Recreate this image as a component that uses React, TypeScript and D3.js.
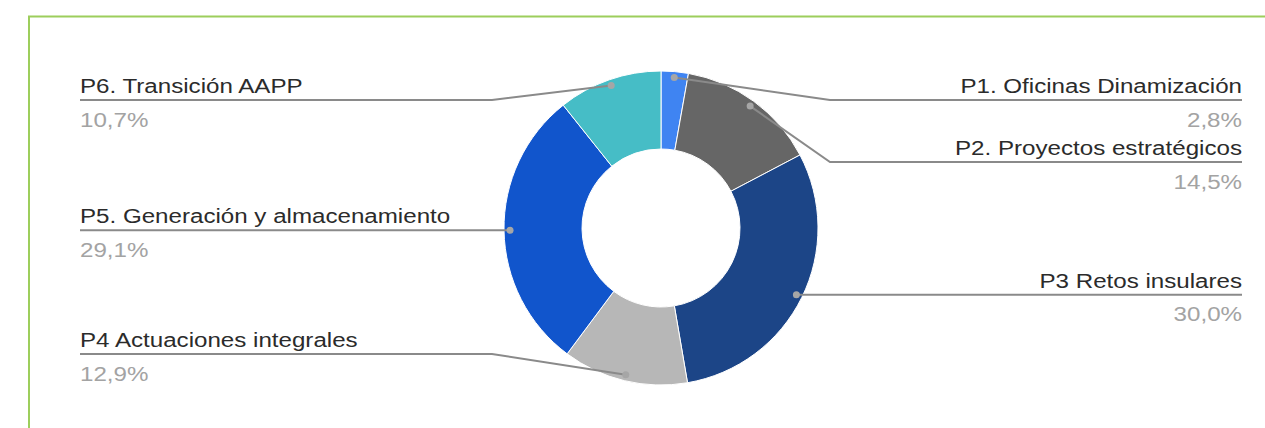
import React from "react";
import * as d3 from "d3";

const categories = [
  "P1. Oficinas Dinamización",
  "P2. Proyectos estratégicos",
  "P3 Retos insulares",
  "P4 Actuaciones integrales",
  "P5. Generación y almacenamiento",
  "P6. Transición AAPP",
];
const values = [2.8, 14.5, 30.0, 12.9, 29.1, 10.7];
const colors = ["#3f84f2", "#666666", "#1c4587", "#b7b7b7", "#1155cc", "#46bdc6"];

const W = 1265;
const H = 428;
const cx = 661;
const cy = 228;
const R = 157;
const r0 = 79;
const dotR = 151;
const FONT = "'Liberation Sans', Arial, sans-serif";
const FS = 21;
const SX = 1.15;
const minY = 100;
const maxY = 354;
const gap = 62;
const leftX = 80;
const rightX = 1242;

export default function App() {
  const total = d3.sum(values);
  const pie = d3.pie<number>().sort(null).value((d) => d)(values);
  const arc = d3.arc<d3.PieArcDatum<number>>().innerRadius(r0).outerRadius(R);
  const fmt = (v: number) => d3.format(".1f")((v / total) * 100).replace(".", ",") + "%";

  const items = pie.map((p, i) => {
    const a = (p.startAngle + p.endAngle) / 2;
    const dx = cx + dotR * Math.sin(a);
    const dy = cy - dotR * Math.cos(a);
    return { i, a, dx, dy, right: a < Math.PI, ly: dy };
  });

  // layout right side (top to bottom)
  const rightItems = items.filter((d) => d.right).sort((a, b) => a.dy - b.dy);
  let prev = -Infinity;
  rightItems.forEach((d) => {
    d.ly = Math.min(maxY, Math.max(d.dy, minY, prev + gap));
    prev = d.ly;
  });
  const leftItems = items.filter((d) => !d.right).sort((a, b) => a.dy - b.dy);
  prev = -Infinity;
  leftItems.forEach((d) => {
    d.ly = Math.min(maxY, Math.max(d.dy, minY, prev + gap));
    prev = d.ly;
  });

  const line = d3.line<[number, number]>();

  return (
    <svg
      width={W}
      height={H}
      style={{ position: "absolute", left: 0, top: 0, background: "#fff" }}
    >
      <rect x={29} y={16.5} width={W + 20} height={H + 20} fill="none" stroke="#8cc63f" strokeWidth={2} opacity={0.85} />
      <g transform={`translate(${cx},${cy})`}>
        {pie.map((p, i) => (
          <path key={i} d={arc(p) || ""} fill={colors[i]} stroke="#fff" strokeWidth={1} />
        ))}
      </g>
      {items.map((d) => {
        const bendX = d.right ? cx + R + 12 : cx - R - 12;
        const endX = d.right ? rightX : leftX;
        const pts: [number, number][] =
          Math.abs(d.ly - d.dy) < 4
            ? [[d.dx, d.dy], [endX, d.ly]]
            : [[d.dx, d.dy], [bendX, d.ly], [endX, d.ly]];
        return (
          <g key={d.i}>
            <path d={line(pts) || ""} fill="none" stroke="#8a8a8a" strokeWidth={2} />
            <circle cx={d.dx} cy={d.dy} r={3.5} fill="#a6a6a6" />
            <g transform={`translate(${endX},${d.ly - 7}) scale(${SX},1)`}>
              <text
                x={0}
                y={0}
                fontFamily={FONT}
                fontSize={FS}
                fill="#2b2b2b"
                textAnchor={d.right ? "end" : "start"}
              >
                {categories[d.i]}
              </text>
            </g>
            <g transform={`translate(${endX},${d.ly + 26.5}) scale(${SX},1)`}>
              <text
                x={0}
                y={0}
                fontFamily={FONT}
                fontSize={FS}
                fill="#a3a3a3"
                textAnchor={d.right ? "end" : "start"}
              >
                {fmt(values[d.i])}
              </text>
            </g>
          </g>
        );
      })}
    </svg>
  );
}
